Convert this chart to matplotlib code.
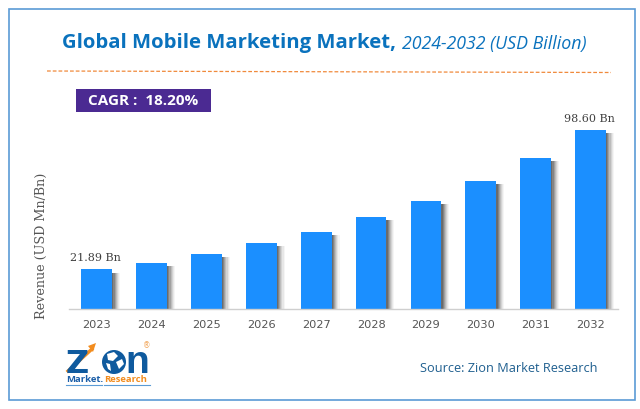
import matplotlib
matplotlib.use('Agg')
import matplotlib.pyplot as plt
from matplotlib.patches import Rectangle, Circle, Polygon
import numpy as np

years = ['2023', '2024', '2025', '2026', '2027', '2028', '2029', '2030', '2031', '2032']
revenue = [21.89, 25.4, 30.3, 36.4, 42.4, 50.7, 59.5, 70.5, 83.2, 98.60]
bar_labels = {0: '21.89 Bn', 9: '98.60 Bn'}

W, H = 640, 409
fig = plt.figure(figsize=(W / 100, H / 100), dpi=100)

# overlay axes in pixel coordinates for frame, title and logo
bg = fig.add_axes([0, 0, 1, 1])
bg.set_xlim(0, W)
bg.set_ylim(H, 0)
bg.axis('off')
bg.add_patch(Rectangle((8.5, 8.5), 626, 391.5, fill=False, ec='#5b9bd5', lw=1.2))

# title
bg.text(62, 43, 'Global Mobile Marketing Market,', color='#0a72bd', fontsize=14.6,
        fontweight='bold', family='Open Sans', va='center', ha='left')
bg.text(402, 44, '2024-2032 (USD Billion)', color='#0a72bd', fontsize=12.8,
        style='italic', family='Open Sans', va='center', ha='left')
bg.plot([47, 611], [71, 72.5], color='#f08a3c', lw=0.9, ls=(0, (3, 1.6)))

# CAGR box
bg.add_patch(Rectangle((76, 89), 135, 23, color='#4b2a92', lw=0))
bg.text(143, 101, 'CAGR :  18.20%', color='white', fontsize=11, fontweight='bold',
        family='Open Sans', va='center', ha='center')

# source
bg.text(420, 369, 'Source: Zion Market Research', color='#1f5f8f', fontsize=9.2,
        family='Open Sans', va='center', ha='left')

# logo
bg.text(66, 373, 'Z', color='#0f5a9e', fontsize=23, fontweight='bold', family='DejaVu Sans',
        va='baseline', ha='left')
bg.plot([68, 92], [371, 349], color='#f28c1e', lw=2.4)
bg.add_patch(Polygon([[88, 346], [96, 343], [93, 352]], color='#f28c1e', lw=0))
bg.add_patch(Circle((114, 362), 12, color='#0f5a9e', lw=0))
bg.add_patch(Polygon([[107, 354], [114, 352], [118, 356], [113, 361], [108, 360]], color='white', lw=0))
bg.add_patch(Polygon([[116, 362], [122, 359], [124, 364], [119, 369]], color='white', lw=0))
bg.add_patch(Polygon([[106, 363], [110, 364], [111, 371], [108, 369]], color='white', lw=0))
bg.text(125, 373, 'n', color='#0f5a9e', fontsize=28, fontweight='bold', family='Liberation Sans',
        va='baseline', ha='left')
bg.text(147, 346, '®', color='#f2a65a', fontsize=5.5, va='center', ha='center')
bg.text(66, 380, 'Market.', color='#1c5fa8', fontsize=6.8, fontweight='bold',
        family='Open Sans', va='center', ha='left')
bg.text(104, 380, 'Research', color='#f28c1e', fontsize=6.8, fontweight='bold',
        family='Open Sans', va='center', ha='left')
bg.plot([66, 102], [385, 385], color='#5b9bd5', lw=0.8)
bg.plot([104, 150], [385, 385], color='#5b9bd5', lw=0.8)

# main chart axes
ax = fig.add_axes([69 / W, 1 - 309 / H, (618 - 69) / W, (309 - 110) / H])
ax.patch.set_alpha(0)
x = np.arange(len(years))
ax.set_xlim(-0.505, 9.5)
ax.set_ylim(0, 199 / 1.815)

# soft shadow on the right side of the bars, dark next to the bar
offsets = [0.145, 0.125, 0.105, 0.085, 0.065, 0.045, 0.025]
alphas = [0.05, 0.08, 0.12, 0.16, 0.22, 0.3, 0.38]
for off, a in zip(offsets, alphas):
    ax.bar(x + off, np.array(revenue) - 1.8, width=0.56, bottom=0, color='#444444', alpha=a, lw=0)
ax.bar(x, revenue, width=0.56, color='#1b8fff', lw=0)

for i, lab in bar_labels.items():
    ax.text(x[i] - 0.02, revenue[i] + 3.6, lab, family='DejaVu Serif', fontsize=8, color='#404040',
            ha='center', va='bottom')

ax.set_xticks(x)
ax.set_xticklabels(years, fontsize=8.2, color='#555555', family='DejaVu Sans')
ax.tick_params(axis='x', length=0, pad=8)
ax.set_yticks([])
for s in ['top', 'right', 'left']:
    ax.spines[s].set_visible(False)
ax.spines['bottom'].set_color('#cfcfcf')
ax.spines['bottom'].set_linewidth(1)

bg.text(41, 246, 'Revenue (USD Mn/Bn)', rotation=90, family='DejaVu Serif', fontsize=9.2,
        color='#555555', va='center', ha='center')

fig.savefig('out.png', dpi=100)
